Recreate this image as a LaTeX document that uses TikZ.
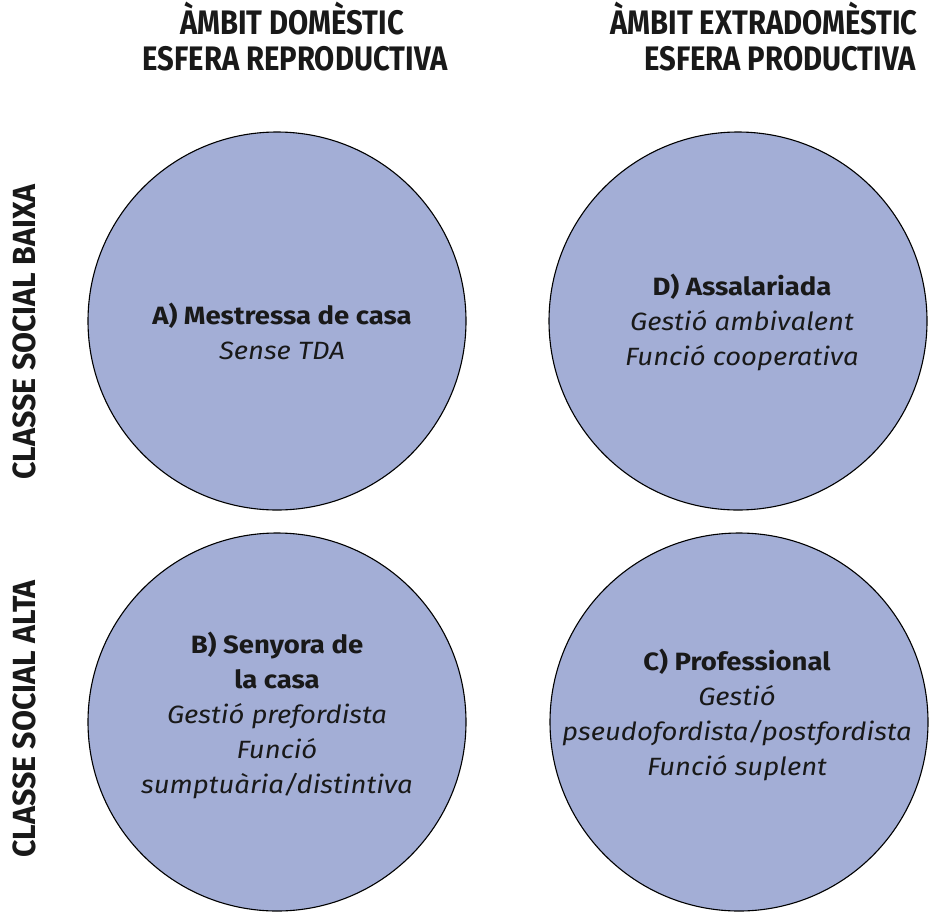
\documentclass[tikz,border=0pt]{standalone}
\usepackage{fontspec}
\setmainfont[FakeStretch=1.1]{Fira Sans}
\newfontfamily\headfont[FakeStretch=0.86]{Fira Sans}
\newfontfamily\sidefont[FakeStretch=0.95]{Fira Sans}
\definecolor{circfill}{RGB}{163,174,214}
\begin{document}
\begin{tikzpicture}[x=1pt,y=-1pt,
  circ/.style={circle,draw=black,line width=1.1pt,fill=circfill,minimum size=378pt,inner sep=0pt},
  body/.style={align=center,font=\fontsize{25}{35}\selectfont,text=black!90},
  head/.style={font=\headfont\bfseries\fontsize{34}{35}\selectfont,text=black!90,inner sep=0pt,anchor=base},
  side/.style={font=\sidefont\bfseries\fontsize{32}{35}\selectfont,text=black!90,inner sep=0pt,rotate=90}]
\useasboundingbox (0,0) rectangle (940,911);
\node[circ] (ca) at (277,321) {};
\node[circ] (cd) at (738,321) {};
\node[circ] (cb) at (277,722) {};
\node[circ] (cc) at (739,722) {};
\node[body] (ta) at (282,331) {\textbf{A) Mestressa de casa}\\\textit{Sense TDA}};
\node[body] (td) at (742,322) {\textbf{D) Assalariada}\\\textit{Gestió ambivalent}\\\textit{Funció cooperativa}};
\node[body] (tb) at (277,715) {\textbf{B) Senyora de}\\\textbf{la casa}\\\textit{Gestió prefordista}\\\textit{Funció}\\\textit{sumptuària/distintiva}};
\node[body] (tc) at (737,715) {\textbf{C) Professional}\\\textit{Gestió}\\\textit{pseudofordista/postfordista}\\\textit{Funció suplent}};
\node[head] (h1) at (292,34) {ÀMBIT DOMÈSTIC};
\node[head] (h2) at (295,70) {ESFERA REPRODUCTIVA};
\node[head] (h3) at (764,34) {ÀMBIT EXTRADOMÈSTIC};
\node[head] (h4) at (780,70) {ESFERA PRODUCTIVA};
\node[side] (s1) at (24,332) {CLASSE SOCIAL BAIXA};
\node[side] (s2) at (24,719) {CLASSE SOCIAL ALTA};
\end{tikzpicture}
\end{document}
